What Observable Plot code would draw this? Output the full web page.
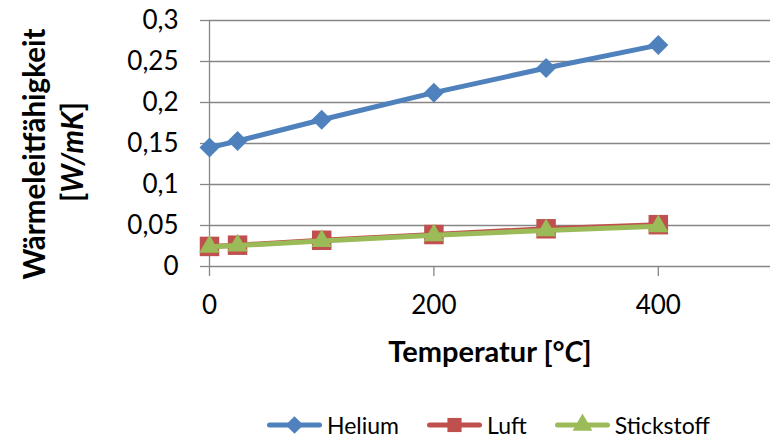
<!DOCTYPE html>
<html><head><meta charset="utf-8">
<script src="https://cdn.jsdelivr.net/npm/d3@7"></script>
<script src="https://cdn.jsdelivr.net/npm/@observablehq/plot@0.6"></script>
<style>
body{margin:0;background:#fff;font-family:Lato,sans-serif;}
#chart{width:770px;height:438px;overflow:hidden;background:#fff}
#chart svg{display:block}
#legend{height:43px;box-sizing:border-box;padding-top:17px;padding-left:267px;display:flex;align-items:center;gap:28px;font-size:23px;color:#000}
.item{display:flex;align-items:center;height:22px}
.item svg{display:block}
.item span{margin-left:5px;line-height:22px}
</style></head><body><div id="chart"></div>
<script>
const temps = [0, 25, 100, 200, 300, 400];
const helium = [0.145, 0.153, 0.179, 0.212, 0.242, 0.270];
const luft = [0.0245, 0.026, 0.032, 0.039, 0.046, 0.051];
const stickstoff = [0.024, 0.0255, 0.031, 0.038, 0.044, 0.049];
const seriesNames = ["Helium", "Luft", "Stickstoff"];
const seriesValues = [helium, luft, stickstoff];
const seriesColors = ["#4F81BD", "#C0504D", "#9BBB59"];
const seriesSymbols = ["diamond2", "square", "triangle"];
const seriesR = [9, 11, 7.6];
const yTicks = [0, 0.05, 0.1, 0.15, 0.2, 0.25, 0.3];
const yTickLabels = ["0", "0,05", "0,1", "0,15", "0,2", "0,25", "0,3"];
const xTicks = [0, 200, 400];
const xTickLabels = ["0", "200", "400"];

const gray = "#868686";
const data = seriesNames.map((s, i) => temps.map((t, j) => ({series: s, t, v: seriesValues[i][j]})));

const marks = [
  Plot.gridY(yTicks, {stroke: gray, strokeOpacity: 1, strokeWidth: 1.3}),
  Plot.axisY(yTicks, {tickSize: 9, tickPadding: 22, stroke: gray, strokeWidth: 1.3, fill: "#000",
    tickFormat: d => yTickLabels[yTicks.indexOf(d)], label: null}),
  Plot.ruleX([0], {y1: 0, y2: 0.3, stroke: gray, strokeWidth: 1.3}),
  Plot.axisX(xTicks, {tickSize: 10, tickPadding: 19, stroke: gray, strokeWidth: 1.3, fill: "#000",
    tickFormat: d => xTickLabels[xTicks.indexOf(d)], label: null})
];
seriesNames.forEach((s, i) => {
  marks.push(Plot.line(data[i], {x: "t", y: "v", stroke: seriesColors[i], strokeWidth: 5, strokeLinejoin: "round", strokeLinecap: "round"}));
  marks.push(Plot.dot(data[i], {x: "t", y: "v", symbol: seriesSymbols[i], r: seriesR[i], fill: seriesColors[i], stroke: "none"}));
});

const svg = Plot.plot({
  width: 770, height: 395,
  marginLeft: 209, marginRight: 0, marginTop: 20, marginBottom: 129,
  x: {domain: [0, 500], axis: null},
  y: {domain: [0, 0.3], axis: null},
  style: {fontFamily: "Lato, sans-serif", fontSize: "26px", background: "white", color: "#000", overflow: "visible"},
  marks
});
document.getElementById("chart").appendChild(svg);

const s = d3.select(svg);
const yt = s.append("g").attr("font-weight", "bold").attr("font-size", 29.5).attr("text-anchor", "middle").attr("fill", "#000");
yt.append("text").attr("transform", "translate(45,154) rotate(-90)").text("Wärmeleitfähigkeit");
const l2 = yt.append("text").attr("transform", "translate(83,152) rotate(-90)");
l2.append("tspan").text("[");
l2.append("tspan").attr("font-style", "italic").text("W/mK");
l2.append("tspan").text("]");
const xt = s.append("text").attr("transform", "translate(490,362)").attr("font-weight", "bold").attr("font-size", 29).attr("text-anchor", "middle").attr("fill", "#000");
xt.append("tspan").text("Temperatur [°");
xt.append("tspan").attr("font-style", "italic").text("C");
xt.append("tspan").text("]");

// legend
const legend = d3.select("#chart").append("div").attr("id", "legend");
const legendSymbols = [d3.symbolDiamond2, d3.symbolSquare, d3.symbolTriangle];
const legendSizes = [200, 200, 170];
seriesNames.forEach((name, i) => {
  const it = legend.append("div").attr("class", "item");
  const ls = it.append("svg").attr("width", 55).attr("height", 22);
  ls.append("line").attr("x1", 2.5).attr("x2", 52.5).attr("y1", 11).attr("y2", 11)
    .attr("stroke", seriesColors[i]).attr("stroke-width", 5).attr("stroke-linecap", "round");
  ls.append("path").attr("transform", "translate(27.5,11)")
    .attr("d", d3.symbol(legendSymbols[i], legendSizes[i])()).attr("fill", seriesColors[i]);
  it.append("span").text(name);
});
</script></body></html>
